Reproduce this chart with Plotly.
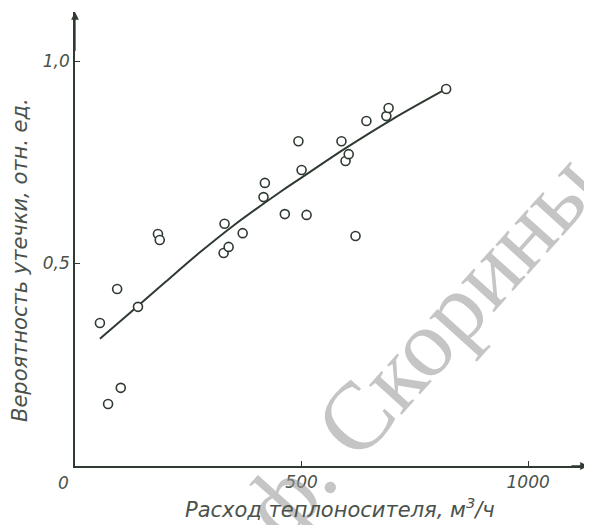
import plotly.graph_objects as go

# Measured points: coolant flow (m3/h) vs. leak probability (rel. units)
flow = [55, 73, 93, 101, 139, 183, 187, 328, 330, 339, 370, 416, 419, 463,
        493, 500, 511, 588, 597, 604, 619, 643, 687, 692, 819]
prob = [0.353, 0.153, 0.437, 0.193, 0.393, 0.573, 0.558, 0.526, 0.598, 0.541,
        0.575, 0.664, 0.699, 0.622, 0.802, 0.731, 0.620, 0.802, 0.753, 0.770,
        0.568, 0.852, 0.864, 0.884, 0.931]

# Fitted curve
fit_flow = [55, 121, 200, 275, 350, 452, 500, 599, 700, 819]
fit_prob = [0.314, 0.378, 0.455, 0.527, 0.594, 0.676, 0.712, 0.786, 0.856, 0.931]

x_ticks = [500, 1000]
x_tick_text = ["500", "1000"]
y_ticks = [0.5, 1.0]
y_tick_text = ["0,5", "1,0"]

INK = "#2f3a31"
TXT = "#4a524b"
FONT = "DejaVu Sans, sans-serif"

fig = go.Figure()
fig.add_trace(go.Scatter(x=fit_flow, y=fit_prob, mode="lines", line_shape="spline",
                         line=dict(color=INK, width=2), hoverinfo="skip"))
fig.add_trace(go.Scatter(x=flow, y=prob, mode="markers",
                         marker=dict(symbol="circle", size=9, color="white",
                                     line=dict(color=INK, width=1.6))))

XMAX, YMAX = 1132, 1.121
tickfont = dict(family=FONT, size=17, color=TXT, style="italic")
titlefont = dict(family=FONT, size=21, color=TXT, style="italic")
fig.update_layout(
    width=584, height=517,
    margin=dict(l=67, r=4, t=4, b=59, autoexpand=False),
    paper_bgcolor="white", plot_bgcolor="white",
    showlegend=False,
    font=dict(family=FONT, color=TXT, size=16),
    xaxis=dict(range=[0, XMAX], showgrid=False, zeroline=False, automargin=False,
               showline=True, linecolor=INK, linewidth=1.5,
               tickmode="array", tickvals=x_ticks, ticktext=x_tick_text,
               ticks="inside", ticklen=5, tickcolor=INK, tickwidth=1,
               tickfont=tickfont),
    yaxis=dict(range=[0, YMAX], showgrid=False, zeroline=False, automargin=False,
               showline=True, linecolor=INK, linewidth=1.5,
               tickmode="array", tickvals=y_ticks, ticktext=y_tick_text,
               ticks="inside", ticklen=5, tickcolor=INK, tickwidth=1,
               tickfont=tickfont),
)

annotations = [
    # watermark
    dict(xref="paper", yref="paper", x=0.6725, y=0.2665, xanchor="center", yanchor="middle",
         text="ф. Скорины", showarrow=False, textangle=-48,
         font=dict(family="Liberation Serif, serif", size=96, color="rgba(150,150,150,0.55)")),
    # axis arrows
    dict(x=XMAX, y=0, ax=XMAX - 40, ay=0, xref="x", yref="y", axref="x", ayref="y",
         showarrow=True, arrowhead=2, arrowsize=1.2, arrowwidth=1.3, arrowcolor=INK, text=""),
    dict(x=0, y=YMAX, ax=0, ay=YMAX - 0.1, xref="x", yref="y", axref="x", ayref="y",
         showarrow=True, arrowhead=2, arrowsize=1.2, arrowwidth=1.3, arrowcolor=INK, text=""),
    # origin label
    dict(xref="paper", yref="paper", x=-0.023, y=-0.037, xanchor="center", yanchor="middle",
         text="0", showarrow=False, font=tickfont),
    # axis titles
    dict(xref="paper", yref="paper", x=0.5166, y=-0.0925, xanchor="center", yanchor="middle",
         text="Расход теплоносителя, м<sup>3</sup>/ч", showarrow=False, font=titlefont),
    dict(xref="paper", yref="paper", x=-0.107, y=0.454, xanchor="center", yanchor="middle",
         text="Вероятность утечки, отн. ед.", showarrow=False, textangle=-90,
         font=titlefont),
]
fig.update_layout(annotations=annotations)

fig.write_html("out.html")
